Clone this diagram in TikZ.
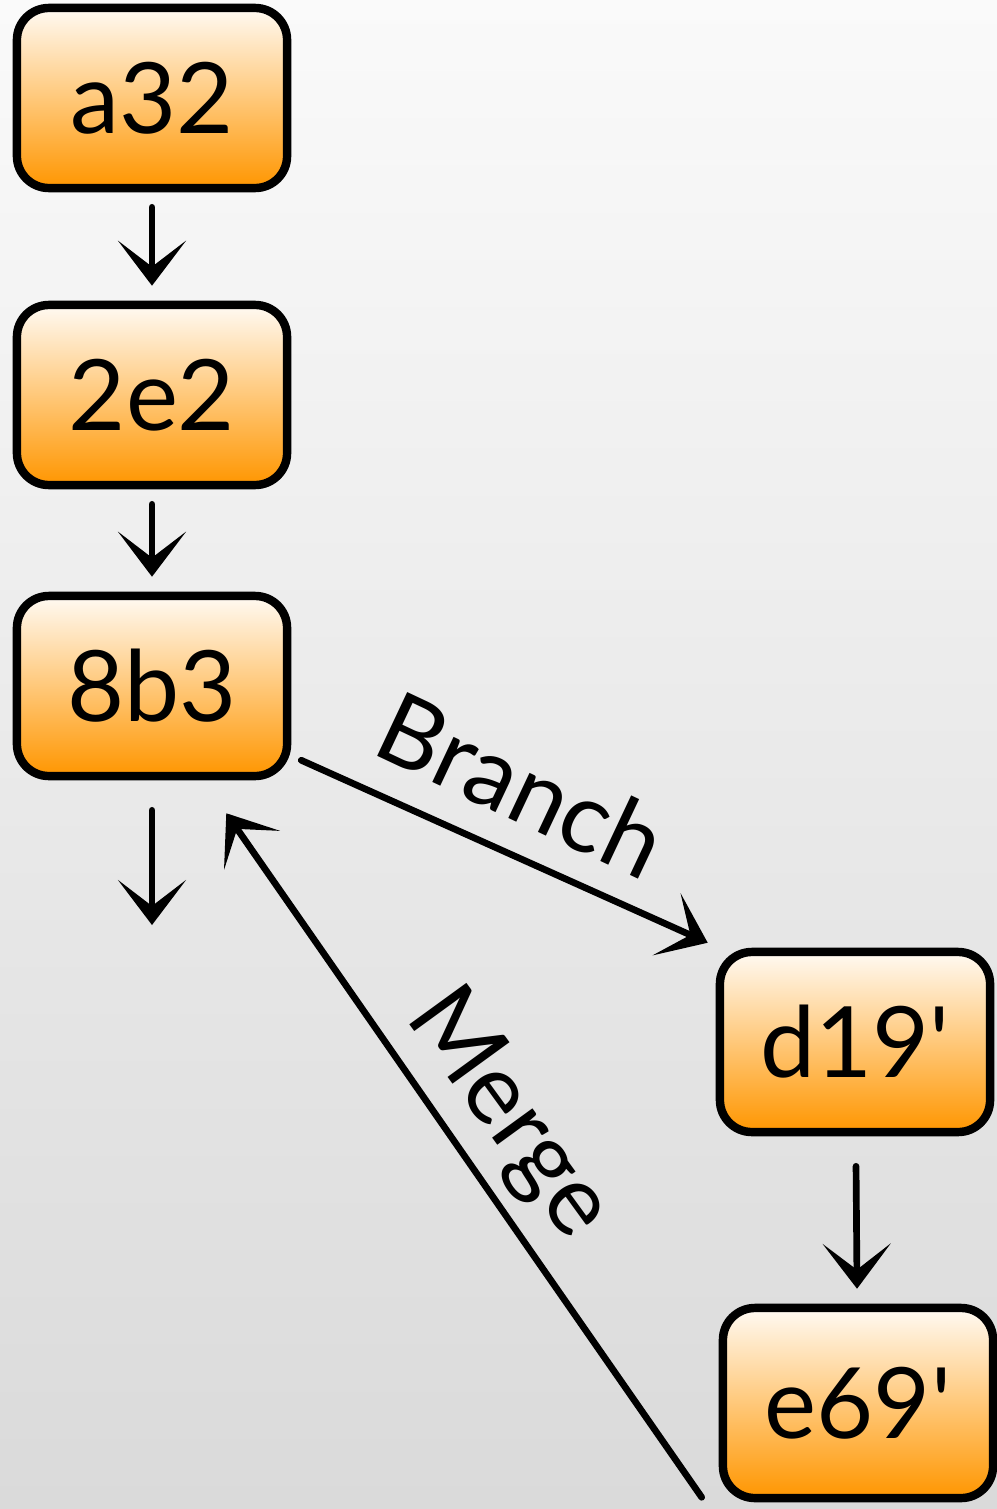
\documentclass[tikz,border=0pt]{standalone}
\usepackage{fontspec}
\setmainfont{Lato}
\usetikzlibrary{arrows.meta,calc}
\definecolor{bgtop}{RGB}{250,250,250}
\definecolor{bgbot}{RGB}{218,218,218}
\definecolor{ortop}{RGB}{255,250,243}
\definecolor{orbot}{RGB}{255,150,0}
\begin{document}
\begin{tikzpicture}[x=0.01cm,y=-0.01cm,
  commit/.style={draw=black, line width=2.4pt, rounded corners=0.32cm,
    top color=ortop, bottom color=orbot, minimum width=2.7cm, minimum height=1.8cm,
    inner sep=0pt, font=\fontsize{28}{32}\selectfont},
  link/.style={line width=1.9pt, line cap=round,
    -{Stealth[length=0.45cm,width=0.68cm,inset=0.26cm]}},
  lbl/.style={inner sep=0pt, font=\fontsize{28}{32}\selectfont}]
\shade[top color=bgtop, bottom color=bgbot] (0,0) rectangle (997,1509);
\useasboundingbox (0,0) rectangle (997,1509);

\node[commit] (a32) at (152,98) {a32};
\node[commit] (e22) at (152,395) {2e2};
\node[commit] (b83) at (152,686) {8b3};
\node[commit] (d19) at (855,1042) {d19\textquotesingle};
\node[commit, minimum height=1.9cm] (e69) at (858,1403) {e69\textquotesingle};

\coordinate (free) at (152,925);

\draw[link, shorten <=0.15cm, shorten >=0.15cm] (a32) -- (e22);
\draw[link, shorten <=0.15cm, shorten >=0.15cm] (e22) -- (b83);
\draw[link, shorten <=0.3cm] (b83.south) -- (free);
\draw[link] ($(b83.south east)+(10,-20)$) -- ($(d19.north west)+(-8,-5)$);
\draw[link, shorten <=0.3cm, shorten >=0.15cm] (d19) -- (e69);
\draw[link] ($(e69.south west)+(-17,-5)$) -- ($(b83.south east)+(-65,33)$);

\node[lbl, rotate=-25.2] (branch) at (522,785) {Branch};
\node[lbl, rotate=-54] (merge) at (508,1115) {Merge};
\end{tikzpicture}
\end{document}
